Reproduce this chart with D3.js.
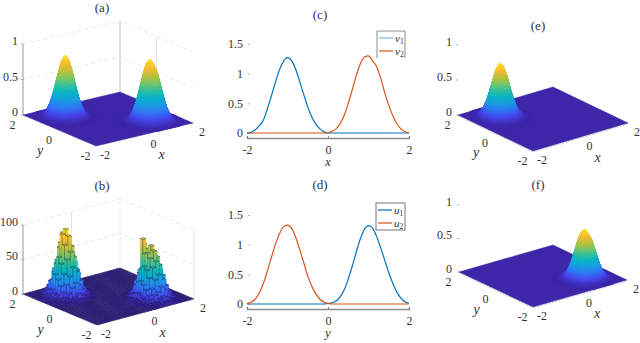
<!DOCTYPE html>
<html>
<head>
<meta charset="utf-8">
<script src="https://cdn.jsdelivr.net/npm/d3@7"></script>
<style>
  html, body { margin: 0; padding: 0; background: #fff; }
  svg { display: block; }
  text { font-family: "Liberation Serif", serif; fill: #333; font-size: 12px; }
  .it { font-style: italic; }
</style>
</head>
<body>
<svg id="fig" width="640" height="343"></svg>
<script>
// profiles (c) and (d), step 0.1 from -2 to 2
const grid = d3.range(41).map((i) => -2 + i * 0.1);
const v1 = [0, .01, .05, .12, .21, .40, .62, .85, 1.06, 1.21, 1.27, 1.22, 1.08, .87, .65, .44, .27, .15, .07, .02, 0,
  0, 0, 0, 0, 0, 0, 0, 0, 0, 0, 0, 0, 0, 0, 0, 0, 0, 0, 0, 0];
const v2 = [0, 0, 0, 0, 0, 0, 0, 0, 0, 0, 0, 0, 0, 0, 0, 0, 0, 0, 0, 0, 0,
  .03, .07, .16, .30, .50, .73, .97, 1.17, 1.28, 1.30, 1.22, 1.12, .93, .68, .47, .29, .16, .07, .02, 0];
const u1 = [0, 0, 0, 0, 0, 0, 0, 0, 0, 0, 0, 0, 0, 0, 0, 0, 0, 0, 0, 0, .01,
  .02, .05, .12, .24, .42, .64, .88, 1.10, 1.26, 1.32, 1.28, 1.14, .95, .74, .53, .35, .20, .10, .04, .01];
const u2 = [.01, .03, .08, .18, .34, .55, .78, 1.0, 1.18, 1.30, 1.33, 1.28, 1.13, .92, .70, .47, .30, .17, .08, .03, .01,
  0, 0, 0, 0, 0, 0, 0, 0, 0, 0, 0, 0, 0, 0, 0, 0, 0, 0, 0, 0];

// peak heights of the surfaces in (a), (e), (f)
const peakA = [0.87, 0.87];
const peakE = [0.77, 0];
const peakF = [0, 0.73];
const peakSharpness = 1.4; // surfaces are narrower than the profiles

// histogram counts of (b) around the two towers, 30 bins a side
const histBins = 30;
const histLeft = [
  [0, 0, 1, 1, 1, 2, 3, 2, 2, 1, 1, 0, 0],
  [0, 1, 1, 2, 4, 6, 10, 7, 5, 3, 1, 1, 0],
  [0, 1, 3, 6, 11, 18, 24, 20, 13, 7, 3, 1, 0],
  [1, 2, 5, 12, 22, 33, 45, 38, 24, 14, 6, 2, 1],
  [1, 3, 8, 20, 36, 56, 66, 58, 38, 22, 9, 4, 1],
  [2, 5, 10, 28, 50, 76, 88, 72, 48, 30, 12, 5, 1],
  [3, 7, 13, 34, 58, 90, 96, 84, 60, 36, 14, 6, 2],
  [2, 6, 12, 26, 48, 70, 90, 80, 46, 28, 11, 5, 1],
  [1, 4, 8, 22, 34, 50, 74, 54, 36, 20, 8, 3, 1],
  [1, 2, 6, 11, 20, 36, 40, 34, 21, 12, 6, 2, 0],
  [0, 1, 3, 6, 12, 18, 24, 17, 13, 7, 3, 1, 0],
  [0, 1, 1, 3, 5, 7, 9, 8, 5, 3, 1, 0, 0],
  [0, 0, 0, 1, 1, 3, 4, 3, 1, 1, 0, 0, 0],
];
const histRight = [
  [0, 0, 1, 1, 2, 2, 3, 3, 2, 1, 0, 0, 0],
  [0, 1, 1, 3, 4, 7, 9, 7, 4, 2, 1, 1, 0],
  [0, 1, 3, 7, 12, 16, 22, 17, 11, 6, 3, 1, 0],
  [1, 2, 6, 11, 20, 32, 38, 31, 20, 12, 5, 2, 1],
  [1, 3, 8, 18, 34, 48, 56, 50, 34, 18, 8, 3, 1],
  [2, 4, 11, 24, 44, 60, 70, 60, 40, 24, 10, 4, 1],
  [2, 5, 12, 28, 48, 66, 76, 66, 44, 28, 12, 5, 2],
  [2, 4, 10, 25, 44, 64, 70, 62, 42, 24, 11, 4, 1],
  [1, 3, 8, 20, 36, 84, 62, 52, 33, 18, 8, 3, 1],
  [1, 2, 6, 12, 24, 38, 74, 34, 22, 12, 6, 2, 0],
  [0, 1, 3, 7, 12, 20, 24, 18, 12, 6, 3, 1, 0],
  [0, 1, 1, 3, 4, 6, 8, 6, 4, 2, 1, 0, 0],
  [0, 0, 1, 1, 2, 2, 3, 2, 2, 1, 0, 0, 0],
];

// tick labels
const xyTicks = [-2, 0, 2];
const zTicksUnit = [0, 0.5, 1];
const zTicksCount = [0, 50, 100];
const lineTicks = [0, 0.5, 1, 1.5];

const parulaStops = ["#3e26a8", "#4748f0", "#2f7bf5", "#1a9ee2", "#07b4c6", "#2ec09e", "#73c76b", "#b4c33e", "#ecb935", "#fdd02c", "#f9fb15"];
const parula = d3.scaleLinear().domain(parulaStops.map((c, i) => i / 10)).range(parulaStops).clamp(true);

const svg = d3.select("#fig");

function label(g, x, y, txt, cls, anchor) {
  return g.append("text").attr("x", x).attr("y", y).attr("dy", "0.32em")
    .attr("text-anchor", anchor || "middle").attr("class", cls || null).text(txt);
}

// oblique map of the floor plus a height
function makeProjection(p) {
  const fx = d3.scaleLinear().domain([-2, 2]).range([0, 1]);
  const fz = d3.scaleLinear().domain([0, p.zMax]).range([0, p.zPx]);
  return (x, y, z) => {
    const a = fx(x), b = fx(y);
    return [
      p.front[0] + a * (p.right[0] - p.front[0]) + b * (p.left[0] - p.front[0]),
      p.front[1] + a * (p.right[1] - p.front[1]) + b * (p.left[1] - p.front[1]) - fz(z || 0),
    ];
  };
}

const poly = d3.line();

function drawWalls(g, p, proj, ticks) {
  const top = ticks[ticks.length - 1];
  if (!p.walls) return;
  ticks.slice(1).forEach((t) => {
    g.append("path").attr("fill", "none").attr("stroke", "#e2e2e2").attr("stroke-width", 0.8)
      .attr("stroke-dasharray", "4 3")
      .attr("d", poly([proj(-2, 2, t), proj(2, 2, t), proj(2, -2, t)]));
  });
  g.append("path").attr("stroke", p.backColor).attr("stroke-width", p.backWidth)
    .attr("d", poly([proj(2, 2, 0), proj(2, 2, top)]));
  p.verticals.forEach((c) => {
    g.append("path").attr("stroke", "#e4e4e4").attr("stroke-width", 1)
      .attr("d", poly([proj(c[0], c[1], 0), proj(c[0], c[1], top)]));
  });
  g.append("path").attr("stroke", "#8c8c8c").attr("stroke-width", 0.9)
    .attr("d", poly([proj(-2, 2, 0), proj(-2, 2, top)]));
}

function drawLabels(g, p, proj, ticks) {
  ticks.forEach((t) => {
    const q = proj(-2, 2, t);
    label(g, q[0] + p.zOff[0], q[1] + p.zOff[1], t, null, "end");
    g.append("path").attr("stroke", "#999").attr("stroke-width", 0.8)
      .attr("d", poly([[q[0] - 2, q[1]], q]));
  });
  xyTicks.forEach((t) => {
    const a = proj(-2, t), b = proj(t, -2);
    label(g, a[0] - 10.5, a[1] + 10, t);
    label(g, b[0] + 9, b[1] + 9.5, t);
  });
  const my = proj(-2, 0), mx = proj(0, -2);
  label(g, my[0] - 19.5, my[1] + 20, "y", "it").style("font-size", "14px");
  label(g, mx[0] + 17, mx[1] + 20.5, "x", "it").style("font-size", "14px");
  label(g, p.title[0], p.title[1], p.name).style("font-size", "13px");
}

function drawSurface(p, peaks) {
  const g = svg.append("g");
  const proj = makeProjection(p);
  drawWalls(g, p, proj, zTicksUnit);

  const maxL = d3.max(v1) * d3.max(u1), maxR = d3.max(v2) * d3.max(u2);
  const nodeH = (i, j) => peaks[0] * Math.pow(v1[i] * u1[j] / maxL, peakSharpness)
    + peaks[1] * Math.pow(v2[i] * u2[j] / maxR, peakSharpness);

  // each profile cell is split 3x3 so the colours run smoothly
  const sub = 3;
  const n = (grid.length - 1) * sub;
  const pos = d3.scaleLinear().domain([0, n]).range([-2, 2]);
  const h = (a, b) => {
    const i = Math.min(Math.floor(a / sub), grid.length - 2), j = Math.min(Math.floor(b / sub), grid.length - 2);
    const s = a / sub - i, t = b / sub - j;
    return (1 - s) * (1 - t) * nodeH(i, j) + s * (1 - t) * nodeH(i + 1, j)
      + s * t * nodeH(i + 1, j + 1) + (1 - s) * t * nodeH(i, j + 1);
  };
  const top = d3.max(peaks) / 0.95;
  const quads = [];
  for (let b = n - 1; b >= 0; b--) {
    for (let a = n - 1; a >= 0; a--) {
      const zs = [h(a, b), h(a + 1, b), h(a + 1, b + 1), h(a, b + 1)];
      if (d3.max(zs) < 0.0008) continue;
      quads.push({
        pts: [proj(pos(a), pos(b), zs[0]), proj(pos(a + 1), pos(b), zs[1]),
          proj(pos(a + 1), pos(b + 1), zs[2]), proj(pos(a), pos(b + 1), zs[3])],
        c: parula(d3.mean(zs) / top),
      });
    }
  }
  g.append("path").attr("fill", parulaStops[0]).attr("stroke", parulaStops[0]).attr("stroke-width", 0.5)
    .attr("d", poly([proj(-2, -2), proj(2, -2), proj(2, 2), proj(-2, 2)]) + "Z");
  g.append("g").selectAll("path").data(quads).join("path")
    .attr("d", (d) => poly(d.pts) + "Z")
    .attr("fill", (d) => d.c)
    .attr("stroke", (d) => d.c)
    .attr("stroke-width", 0.6);
  if (p.edgeDash) {
    g.append("path").attr("fill", "none").attr("stroke", "#bbb").attr("stroke-width", 1)
      .attr("stroke-dasharray", "1.5 1.5")
      .attr("transform", "translate(0,1)")
      .attr("d", poly([proj(-2, 2), proj(-2, -2), proj(2, -2)]));
  }
  drawLabels(g, p, proj, zTicksUnit);
}

function drawHistogram(p) {
  const g = svg.append("g");
  const proj = makeProjection(p);
  drawWalls(g, p, proj, zTicksCount);
  const edge = d3.scaleLinear().domain([0, histBins]).range([-2, 2]);
  const counts = new Map();
  histLeft.forEach((row, r) => row.forEach((n, c) => counts.set((c + 1) + "," + (r + 16), n)));
  histRight.forEach((row, r) => row.forEach((n, c) => counts.set((c + 16) + "," + (r + 1), n)));
  const floor = [];
  const bars = [];
  d3.range(histBins).forEach((i) => d3.range(histBins).forEach((j) => {
    const n = counts.get(i + "," + j) || 0;
    floor.push({ i, j });
    if (n > 0) bars.push({ i, j, n });
  }));
  g.append("g").selectAll("path").data(floor).join("path")
    .attr("d", (d) => poly([proj(edge(d.i), edge(d.j)), proj(edge(d.i + 1), edge(d.j)),
      proj(edge(d.i + 1), edge(d.j + 1)), proj(edge(d.i), edge(d.j + 1))]) + "Z")
    .attr("fill", parulaStops[0])
    .attr("stroke", "#14103c")
    .attr("stroke-width", 0.45);

  bars.sort((a, b) => (b.i + b.j) - (a.i + a.j));
  const faces = [];
  const band = 5;
  bars.forEach((b) => {
    const x0 = edge(b.i), x1 = edge(b.i + 1), y0 = edge(b.j), y1 = edge(b.j + 1);
    // sides, coloured upward by height
    d3.range(0, b.n, band).forEach((z0) => {
      const z1 = Math.min(z0 + band, b.n);
      const c = parula(((z0 + z1) / 2) / 100);
      faces.push({ pts: [proj(x0, y0, z0), proj(x0, y1, z0), proj(x0, y1, z1), proj(x0, y0, z1)], c, line: false });
      faces.push({ pts: [proj(x0, y0, z0), proj(x1, y0, z0), proj(x1, y0, z1), proj(x0, y0, z1)], c, line: false });
    });
    // dark bar outline and lid
    faces.push({ pts: [proj(x0, y0, b.n), proj(x1, y0, b.n), proj(x1, y1, b.n), proj(x0, y1, b.n)], c: parula(b.n / 100), line: true });
    faces.push({ pts: [proj(x0, y0, 0), proj(x0, y0, b.n)], c: "none", line: true });
  });
  g.append("g").selectAll("path").data(faces).join("path")
    .attr("d", (d) => poly(d.pts) + (d.pts.length > 2 ? "Z" : ""))
    .attr("fill", (d) => d.c)
    .attr("stroke", (d) => (d.line ? "#15123a" : d.c))
    .attr("stroke-opacity", (d) => (d.line ? 0.7 : 1))
    .attr("stroke-width", (d) => (d.line ? 0.55 : 0.3));
  drawLabels(g, p, proj, zTicksCount);
}

function drawLines(p, series, names) {
  const g = svg.append("g");
  const x = d3.scaleLinear().domain([-2, 2]).range([247, 409]);
  const y = d3.scaleLinear().domain([0, 1.5]).range([p.y0, p.y15]);
  const line = d3.line().x((d, i) => x(grid[i])).y((d) => y(d)).curve(d3.curveMonotoneX);

  const xAxis = g.append("g").attr("transform", `translate(0,${p.axisY})`)
    .call(d3.axisBottom(x).tickValues(xyTicks).tickFormat((d) => d).tickSize(-2).tickPadding(7));
  xAxis.select(".domain").attr("stroke", "#8c8c8c").attr("stroke-width", 1.3);
  xAxis.selectAll(".tick line").attr("stroke", "#666").attr("stroke-width", 0.7);

  const yAxis = g.append("g").attr("transform", "translate(250,0)")
    .call(d3.axisLeft(y).tickValues(lineTicks).tickFormat((d) => d).tickSize(2).tickPadding(5));
  yAxis.select(".domain").remove();
  yAxis.selectAll(".tick line").attr("stroke", "#999").attr("stroke-width", 0.7);

  series.forEach((s, k) => {
    g.append("path").attr("fill", "none").attr("stroke", p.colors[k]).attr("stroke-width", 1.2)
      .attr("d", line(s));
  });

  label(g, 328, p.xLabelY, p.axisName, "it").style("font-size", "13px");
  label(g, 320, p.titleY, p.name).style("font-size", "13px");

  const l = p.legend;
  if (p.fullFrame) {
    g.append("rect").attr("x", l[0]).attr("y", l[1]).attr("width", l[2] - l[0]).attr("height", l[3] - l[1])
      .attr("fill", "#fff").attr("stroke", "#777").attr("stroke-width", 1);
  } else {
    g.append("rect").attr("x", l[0]).attr("y", l[1]).attr("width", l[2] - l[0]).attr("height", l[3] - l[1]).attr("fill", "#fff");
    g.append("path").attr("fill", "none").attr("stroke", "#8c8c8c").attr("stroke-width", 1)
      .attr("d", poly([[l[0], l[3]], [l[0], l[1]], [l[2], l[1]], [l[2], l[3]]]));
  }
  names.forEach((n, k) => {
    const ly = l[1] + p.legendStep[k];
    g.append("path").attr("stroke", p.legendColors[k]).attr("stroke-width", 1.2)
      .attr("d", poly([[l[0] + 2, ly], [l[0] + 16, ly]]));
    const t = label(g, l[0] + 18, ly, null, "it", "start").style("font-size", "11px");
    t.append("tspan").text(n);
    t.append("tspan").attr("dy", "2").style("font-size", "7.5px").style("font-style", "normal").text(k + 1);
  });
}

drawSurface({
  name: "(a)", title: [102, 8], front: [96, 146], right: [193, 123], left: [23, 115], zMax: 1, zPx: 71,
  zOff: [-5, -2.5], walls: true, backColor: "#d4d4d4", backWidth: 1.4, verticals: [[2, 0]], edgeDash: false,
}, peakA);

drawHistogram({
  name: "(b)", title: [102, 186], front: [97, 325], right: [194, 299], left: [23, 294], zMax: 100, zPx: 69,
  zOff: [-5, -3], walls: true, backColor: "#ececec", backWidth: 0.8, verticals: [[0, 2], [2, -2]],
});

drawLines({
  name: "(c)", titleY: 15, axisName: "x", y0: 133, y15: 44, axisY: 138, xLabelY: 162,
  colors: ["#0072BD", "#D95319"], legendColors: ["#6db6e8", "#D95319"],
  legend: [377, 31, 405, 58], legendStep: [7, 20], fullFrame: false,
}, [v1, v2], ["v", "v"]);

drawLines({
  name: "(d)", titleY: 185, axisName: "y", y0: 304, y15: 215, axisY: 309, xLabelY: 333,
  colors: ["#0072BD", "#D95319"], legendColors: ["#0072BD", "#D95319"],
  legend: [376, 203, 405, 230], legendStep: [7, 20], fullFrame: true,
}, [u1, u2], ["u", "u"]);

drawSurface({
  name: "(e)", title: [538, 26], front: [533, 151], right: [628, 123], left: [458, 115], zMax: 1, zPx: 70,
  zOff: [-6, -3], walls: false, edgeDash: true,
}, peakE);

drawSurface({
  name: "(f)", title: [538, 185], front: [533, 307], right: [627, 280], left: [459, 272], zMax: 1, zPx: 67,
  zOff: [-7, -3], walls: false, edgeDash: true,
}, peakF);
</script>
</body>
</html>
